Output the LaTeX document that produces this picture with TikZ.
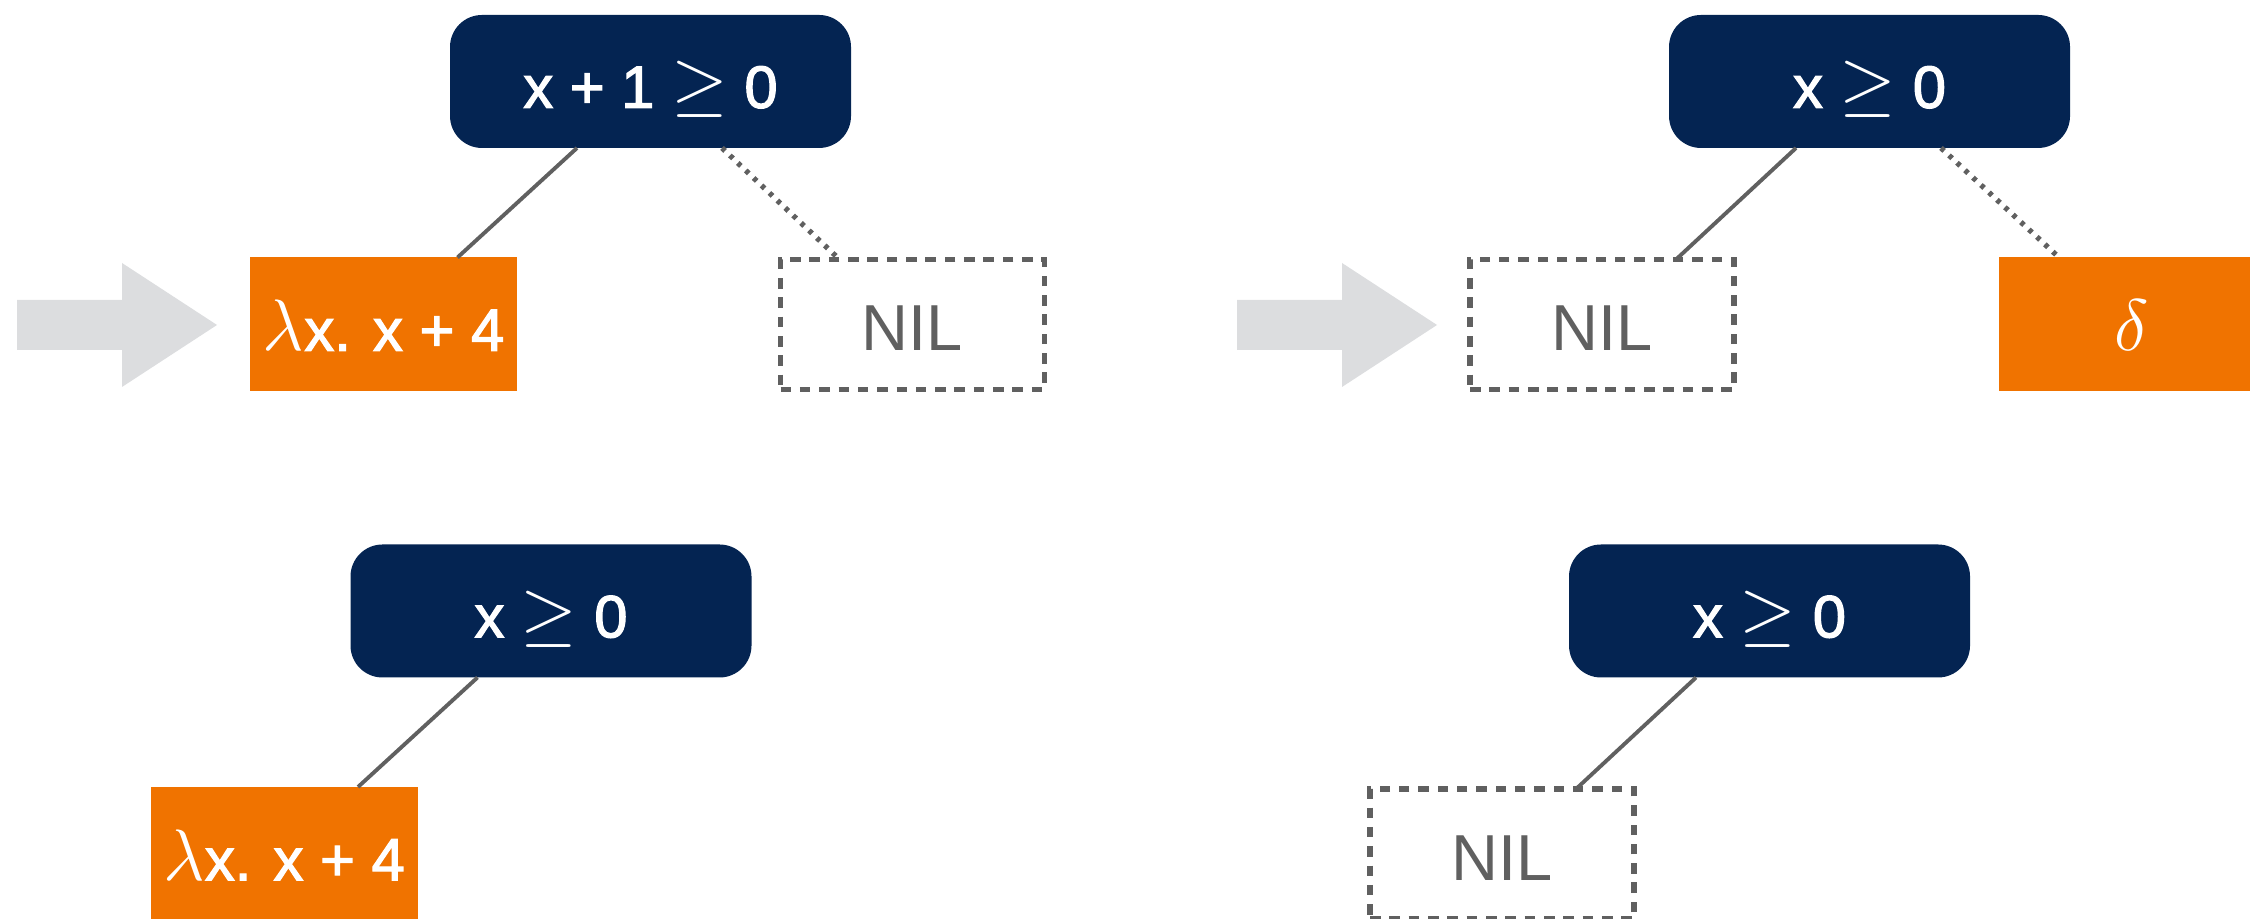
\documentclass[tikz,border=0pt]{standalone}
\usepackage{fontspec}
\setmainfont{Liberation Sans}
\newfontfamily\condfont[FakeBold=2]{Liberation Sans}
\newcommand{\bigsym}[1]{{\fontsize{20.5}{24}\selectfont$#1$}}

\definecolor{condblue}{RGB}{4,36,82}
\definecolor{leaforange}{RGB}{240,115,0}
\definecolor{edgegrey}{RGB}{96,96,96}
\definecolor{arrowgrey}{RGB}{220,221,223}

\begin{document}
\begin{tikzpicture}[
  box/.style={rectangle,inner sep=0pt,outer sep=0pt,text height=17pt,text depth=2pt},
  cond/.style={box,fill=condblue,text=white,rounded corners=0.32cm,minimum width=4.01cm,minimum height=1.33cm,font=\condfont\fontsize{17}{20}\selectfont},
  fn/.style={box,fill=leaforange,text=white,minimum width=2.67cm,minimum height=1.34cm,font=\condfont\fontsize{17}{20}\selectfont},
  nil/.style={box,draw=edgegrey,line width=1.5pt,dash pattern=on 3pt off 2.5pt,text=edgegrey,minimum width=2.64cm,minimum height=1.3cm,font=\fontsize{18.5}{22}\selectfont},
  branch/.style={draw=edgegrey,line width=1.1pt},
  dotbranch/.style={draw=edgegrey,line width=1.5pt,dash pattern=on 1.2pt off 1.9pt}
]
  \useasboundingbox (0,0) rectangle (22.5,9.19);
  \clip (0,0) rectangle (22.5,9.19);

  \foreach \dx in {0,12.2}
    \fill[arrowgrey,xshift=\dx cm] (0.17,5.69) -- (0.17,6.19) -- (1.22,6.19) -- (1.22,6.56)
      -- (2.17,5.94) -- (1.22,5.32) -- (1.22,5.69) -- cycle;

  \node[cond] (1) at (6.505,8.375) {x + 1 \bigsym{\geq} 0};
  \node[fn] (2) at (3.835,5.945) {\bigsym{\lambda}x. x + 4};
  \node[nil] (3) at (9.125,5.945) {NIL};
  \draw[branch] ([xshift=-0.735cm]1.south) -- ([xshift=0.74cm]2.north);
  \draw[dotbranch] ([xshift=0.715cm]1.south) -- ([xshift=-0.73cm]3.north);

  \node[cond] (4) at (18.695,8.375) {x \bigsym{\geq} 0};
  \node[nil] (5) at (16.02,5.945) {NIL};
  \node[fn] (6) at (21.32,5.945) {\bigsym{\delta}};
  \draw[branch] ([xshift=-0.735cm]4.south) -- ([xshift=0.74cm]5.north);
  \draw[dotbranch] ([xshift=0.715cm]4.south) -- ([xshift=-0.73cm]6.north);

  \node[cond] (7) at (5.51,3.08) {x \bigsym{\geq} 0};
  \node[fn] (8) at (2.84,0.65) {\bigsym{\lambda}x. x + 4};
  \draw[branch] ([xshift=-0.735cm]7.south) -- ([xshift=0.74cm]8.north);

  \node[cond] (9) at (17.695,3.08) {x \bigsym{\geq} 0};
  \node[nil] (10) at (15.02,0.65) {NIL};
  \draw[branch] ([xshift=-0.735cm]9.south) -- ([xshift=0.74cm]10.north);
\end{tikzpicture}
\end{document}
